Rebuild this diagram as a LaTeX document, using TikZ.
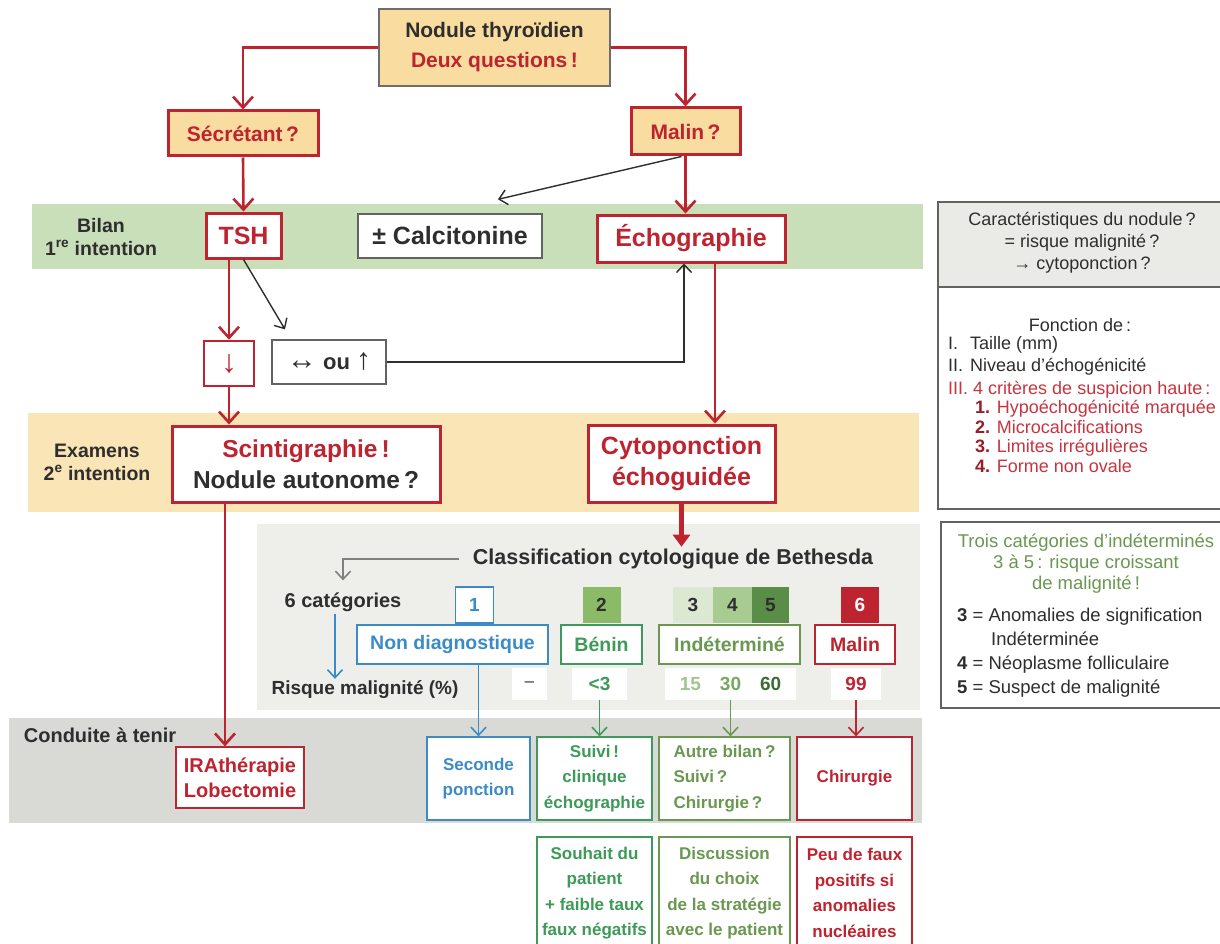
\documentclass[tikz,border=0pt]{standalone}
\usepackage{fontspec}
\setmainfont{Liberation Sans}
\usepackage{xcolor}
\usetikzlibrary{arrows.meta}

\definecolor{dred}{HTML}{BE2430}
\definecolor{ink}{HTML}{2E2E2E}
\definecolor{askfill}{HTML}{F8DCA0}
\definecolor{bilanband}{HTML}{C9DFBA}
\definecolor{examband}{HTML}{FAE5B6}
\definecolor{bethesda}{HTML}{EEEEEB}
\definecolor{ctband}{HTML}{D9D9D6}
\definecolor{headgray}{HTML}{EAEAE7}
\definecolor{nblue}{HTML}{3B8BC6}
\definecolor{ngreen}{HTML}{3E9A58}
\definecolor{indgreen}{HTML}{6A9850}
\definecolor{catii}{HTML}{8CBB68}
\definecolor{catiii}{HTML}{DCE8D2}
\definecolor{cativ}{HTML}{A8CB91}
\definecolor{catv}{HTML}{5A8D47}
\definecolor{risklow}{HTML}{A3C48F}
\definecolor{riskmid}{HTML}{76A95E}
\definecolor{riskhigh}{HTML}{3E6B33}
\definecolor{critred}{HTML}{C8343F}

\newcommand\fsz[2]{\fontsize{#1pt}{#2pt}\selectfont}

\begin{document}
\begin{tikzpicture}[x=1pt,y=-1pt]
\tikzset{every node/.style={align=center, inner sep=2pt, text=ink}}
\tikzset{wh/.style 2 args={minimum width=#1pt, minimum height=#2pt}}
\tikzset{redbox/.style={draw=dred, line width=3pt, fill=white, text=dred, font=\fsz{25}{31}\bfseries}}
\tikzset{ask/.style={redbox, fill=askfill, font=\fsz{21}{26}\bfseries}}
\tikzset{thinbox/.style={draw=#1, line width=1.3pt, fill=white, text=#1, font=\fsz{17}{25.5}\bfseries}}
\tikzset{plainbox/.style={draw=ink!75, line width=1.3pt, fill=white}}
\tikzset{sq/.style={wh={38}{36}, inner sep=0pt, font=\fsz{19}{22}\bfseries}}
\tikzset{cell/.style={fill=white, inner sep=0pt, font=\fsz{19}{22}\bfseries}}
\tikzset{lbl/.style={font=\fsz{19.5}{23}\bfseries}}
\tikzset{note/.style={font=\fsz{18}{22}, anchor=base west}}
\tikzset{flow/.style={draw=dred, line width=2.6pt, -{Straight Barb[length=11pt,width=20pt]}}}
\tikzset{link/.style={draw=ink, line width=1.4pt, -{Straight Barb[length=8pt,width=15pt]}}}
\tikzset{pick/.style={draw=#1, line width=1.6pt, -{Straight Barb[length=8pt,width=15pt]}}}

\useasboundingbox (0,0) rectangle (1220,944);

\fill[bilanband] (32,204) rectangle (923,269);
\fill[examband] (28,413) rectangle (919,512);
\fill[bethesda] (257,524) rectangle (920,710);
\fill[ctband] (9,718) rectangle (922,823);

\node[draw=ink!70, line width=1.2pt, fill=askfill, wh={231}{77}, font=\fsz{21}{30}\bfseries] (nod) at (494.5,47.5) {Nodule thyroïdien\\\textcolor{dred}{Deux questions\,!}};
\node[ask, wh={150}{45}] (secr) at (243,133.5) {Sécrétant\,?};
\node[ask, wh={109}{47}] (mal) at (685.5,131.5) {Malin\,?};

\node[lbl] (bil) at (101,237) {Bilan\\1\textsuperscript{re} intention};
\node[redbox, wh={75}{45}] (tsh) at (243.5,235.5) {TSH};
\node[plainbox, wh={184}{44}, font=\fsz{25}{30}\bfseries] (calc) at (450,236) {± Calcitonine};
\node[redbox, wh={188}{47}] (echo) at (691,238.5) {Échographie};

\node[draw=dred, line width=2.6pt, fill=white, wh={50}{45}, text=dred, font=\fsz{32}{32}] (low) at (229,363.5) {↓};
\node[plainbox, wh={114}{44}, font=\fsz{22}{26}] (eq) at (329,362) {{\fsz{30}{26}↔} \textbf{ou} {\fsz{30}{26}↑}};

\node[lbl] (exa) at (97,462) {Examens\\2\textsuperscript{e} intention};
\node[redbox, wh={268}{76}, font=\fsz{24.5}{31}\bfseries] (sci) at (306,464) {Scintigraphie\,!\\\textcolor{ink}{Nodule autonome\,?}};
\node[redbox, wh={187}{77}] (cyto) at (681.5,463.5) {Cytoponction\\échoguidée};

\node[font=\fsz{21.5}{25}\bfseries] (cls) at (673,559) {Classification cytologique de Bethesda};
\node[lbl, font=\fsz{20}{24}\bfseries] (cat) at (343,602) {6 catégories};
\node[lbl, font=\fsz{19}{23}\bfseries] (risk) at (365,690) {Risque malignité (\%)};

\node[sq, draw=nblue, line width=1.3pt, fill=white, text=nblue] (c1) at (474.5,605) {1};
\node[sq, fill=catii] (c2) at (601.5,605) {2};
\node[sq, fill=catiii, wh={40}{36}] (c3) at (693,605) {3};
\node[sq, fill=cativ, wh={39}{36}] (c4) at (732.5,605) {4};
\node[sq, fill=catv, wh={37}{36}] (c5) at (770.5,605) {5};
\node[sq, fill=dred, text=white] (c6) at (860,605) {6};

\node[thinbox=nblue, wh={191}{39}, font=\fsz{19.5}{24}\bfseries] (nd) at (452.5,644.5) {Non diagnostique};
\node[thinbox=ngreen, wh={81}{39}, font=\fsz{19.5}{24}\bfseries] (ben) at (601.5,644.5) {Bénin};
\node[thinbox=indgreen, wh={141}{39}, font=\fsz{19.5}{24}\bfseries] (ind) at (729.5,644.5) {Indéterminé};
\node[thinbox=dred, wh={80}{39}, font=\fsz{19.5}{24}\bfseries] (mln) at (855,644.5) {Malin};

\node[cell, wh={35}{32}, text=gray] (r1) at (529.5,684) {–};
\node[cell, wh={55}{32}, text=ngreen] (r2) at (599.5,684) {<3};
\node[cell, wh={131}{32}] (r3) at (730.5,684) {\textcolor{risklow}{15}\hspace{19pt}\textcolor{riskmid}{30}\hspace{19pt}\textcolor{riskhigh}{60}};
\node[cell, wh={50}{32}, text=dred] (r6) at (856,684) {99};

\node[lbl, font=\fsz{20}{24}\bfseries] (ct) at (100,735) {Conduite à tenir};
\node[thinbox=dred, wh={128}{61}, font=\fsz{20}{25}\bfseries] (ira) at (240,777.5) {IRAthérapie\\Lobectomie};
\node[thinbox=nblue, wh={103}{83}] (sec) at (478.5,778.5) {Seconde\\ponction};
\node[thinbox=ngreen, wh={115}{83}] (suiv) at (594.5,778.5) {Suivi\,!\\clinique\\échographie};
\node[thinbox=indgreen, wh={131}{83}, align=left] (aut) at (724.5,778.5) {Autre bilan\,?\\Suivi\,?\\Chirurgie\,?};
\node[thinbox=dred, wh={115}{83}] (chir) at (854.5,778.5) {Chirurgie};

\node[thinbox=ngreen, wh={115}{112}] (souh) at (594.5,893) {Souhait du\\patient\\+ faible taux\\faux négatifs};
\node[thinbox=indgreen, wh={131}{112}] (disc) at (724.5,893) {Discussion\\du choix\\de la stratégie\\avec le patient};
\node[thinbox=dred, wh={115}{112}] (peu) at (854.5,893) {Peu de faux\\positifs si\\anomalies\\nucléaires};

\draw[flow] (nod.west) -| (secr.north);
\draw[flow] (nod.east) -| (mal.north);
\draw[flow] (secr.south) -- (tsh.north);
\draw[flow] (mal.south) -- (mal.south |- echo.north);
\draw[link] ([xshift=-4pt]mal.south) -- ([xshift=48pt,yshift=14pt]calc.north);
\draw[flow] (low.north |- tsh.south) -- (low.north);
\draw[link] (tsh.south) -- ([xshift=-44pt,yshift=10pt]eq.north);
\draw[link] (eq.east) -| ([xshift=-7pt]echo.south);
\draw[flow] ([xshift=24pt]echo.south) -- ([xshift=24pt]echo.south |- cyto.north);
\draw[flow] (low.south) -- (low.south |- sci.north);
\draw[flow] ([xshift=-81pt]sci.south) -- ([xshift=-81pt]sci.south |- ira.north);
\draw[draw=dred, line width=5pt, -{Triangle[length=12pt,width=17pt]}] (cyto.south) -- (cyto.south |- cls.north);
\draw[pick=gray, shorten <=12pt, shorten >=10pt] (cls.west) -| (cat.north);
\draw[pick=nblue] ([xshift=-8pt]cat.south) -- ([xshift=-8pt]cat.south |- risk.north);
\draw[pick=nblue] (nd.south -| sec.north) -- (sec.north);
\draw[pick=ngreen] (r2.south) -- (r2.south |- suiv.north);
\draw[pick=indgreen] (r3.south) -- (r3.south |- aut.north);
\draw[pick=dred] (r6.south) -- (r6.south |- chir.north);

\draw[draw=ink!75, line width=1.5pt, fill=headgray] (938,202) rectangle (1228,287);
\draw[draw=ink!75, line width=1.5pt, fill=white] (938,287) rectangle (1228,509);
\node[font=\fsz{18}{22}] (quest) at (1082,243) {Caractéristiques du nodule\,?\\= risque malignité\,?\\→ cytoponction\,?};
\node[font=\fsz{18}{22}] (fct) at (1080,325) {Fonction de\,:};
\foreach \k/\txt [count=\i] in {I./Taille (mm),II./Niveau d'échogénicité} {
  \node[note] at (946,327+22*\i) {\k};
  \node[note] at (968,327+22*\i) {\txt};
}
\node[note, text=critred] at (946,394) {III. 4 critères de suspicion haute\,:};
\foreach \txt [count=\i] in {Hypoéchogénicité marquée,Microcalcifications,Limites irrégulières,Forme non ovale}
  \node[note, text=critred] at (973,394+19.5*\i) {\textcolor{dred!80!black}{\textbf{\i.}} \txt};

\draw[draw=ink!75, line width=1.5pt, fill=white] (941,522) rectangle (1228,708);
\node[font=\fsz{18.5}{21}, text=indgreen] (trois) at (1086,564) {Trois catégories d'indéterminés\\3 à 5\,: risque croissant\\de malignité\,!};
\node[note, font=\fsz{18.5}{22}] at (955,621) {\textbf{3} = Anomalies de signification};
\node[note, font=\fsz{18.5}{22}] at (989,645) {Indéterminée};
\node[note, font=\fsz{18.5}{22}] at (955,669) {\textbf{4} = Néoplasme folliculaire};
\node[note, font=\fsz{18.5}{22}] at (955,693) {\textbf{5} = Suspect de malignité};

\end{tikzpicture}
\end{document}
